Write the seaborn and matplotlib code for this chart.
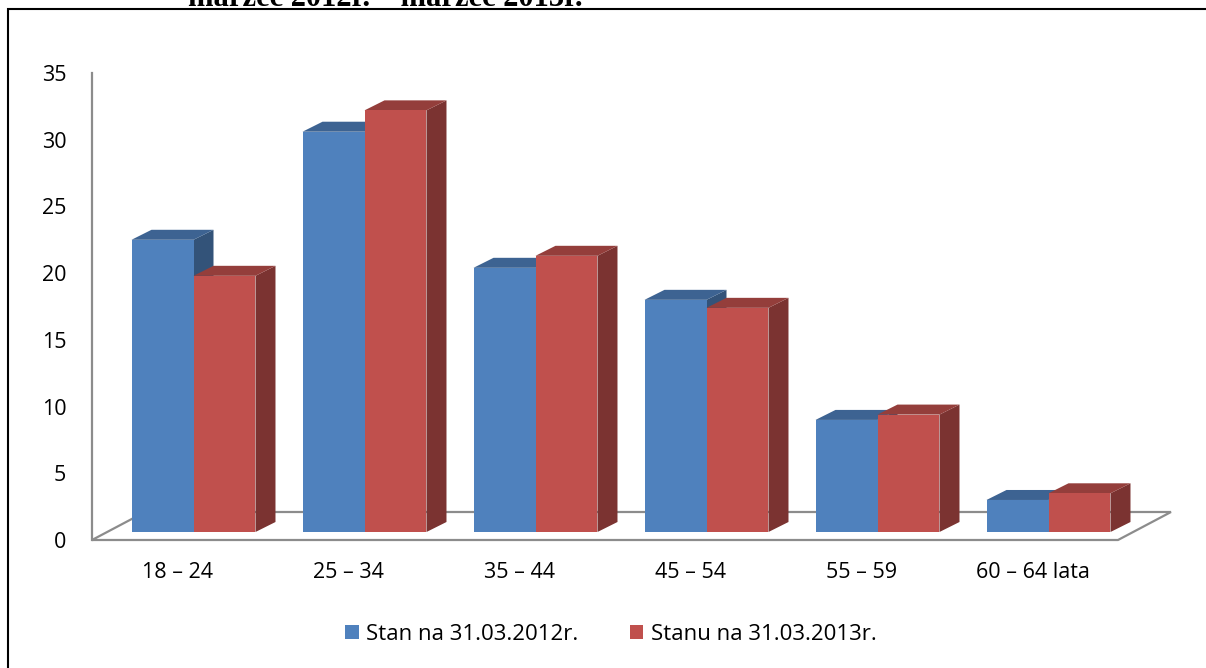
import numpy as np
import pandas as pd
import matplotlib
matplotlib.use("Agg")
import matplotlib.pyplot as plt
import seaborn as sns
from matplotlib.patches import Polygon, Rectangle, Patch

# ---------------- data ----------------
categories = ["18 – 24", "25 – 34", "35 – 44", "45 – 54", "55 – 59", "60 – 64 lata"]
series_names = ["Stan na 31.03.2012r.", "Stanu na 31.03.2013r."]
values_2012 = [21.9, 30.0, 19.8, 17.4, 8.4, 2.4]
values_2013 = [19.2, 31.6, 20.7, 16.8, 8.8, 2.9]
y_ticks = [0, 5, 10, 15, 20, 25, 30, 35]
title_text = "marzec 2012r. – marzec 2013r."

# ---------------- style ----------------
W, H = 1206, 668
BLUE = "#4F81BD"
RED = "#C0504D"
GRAY = "#8C8C8C"

sns.set_theme(style="white")
plt.rcParams["font.family"] = ["Open Sans", "DejaVu Sans"]

fig = plt.figure(figsize=(W / 100, H / 100), dpi=100)
fig.patch.set_facecolor("white")

# front plane of the pseudo-3D plot (pixels)
ax_l, ax_r, ax_b, ax_t = 92, 1118, 540, 73
ax = fig.add_axes([ax_l / W, 1 - ax_b / H, (ax_r - ax_l) / W, (ax_b - ax_t) / H])

df = pd.DataFrame({
    "cat": categories * 2,
    "series": [series_names[0]] * len(categories) + [series_names[1]] * len(categories),
    "value": values_2012 + values_2013,
})

sns.barplot(data=df, x="cat", y="value", hue="series", order=categories,
            hue_order=series_names, palette=[BLUE, RED], width=0.725, gap=0,
            saturation=1, dodge=True, legend=False, errorbar=None,
            linewidth=0, edgecolor="none", ax=ax)

ax.set_xlim(-0.5, len(categories) - 0.5)
ax.set_ylim(y_ticks[0], y_ticks[-1])
ax.set_xlabel("")
ax.set_ylabel("")

px_x = (ax_r - ax_l) / len(categories)          # pixels per x unit
px_y = (ax_b - ax_t) / (y_ticks[-1] - y_ticks[0])  # pixels per y unit

# pseudo-3D geometry (pixel offsets -> data units)
off_x, off_y = 16 / px_x, 8 / px_y       # bar front plane offset from axis plane
dep_x, dep_y = 20 / px_x, 10 / px_y      # bar depth
fl_x, fl_y = 53 / px_x, 28 / px_y        # floor depth


def shade(c, f):
    c = np.array(matplotlib.colors.to_rgb(c))
    return tuple(np.clip(c * f, 0, 1))


bars = sorted(ax.patches, key=lambda p: p.get_x())
for i, p in enumerate(bars):
    z = 3 + i * 0.1
    fc = p.get_facecolor()
    x0 = p.get_x() + off_x
    w = p.get_width()
    h = p.get_height()
    y0 = off_y
    p.set_x(x0)
    p.set_y(y0)
    p.set_zorder(z + 0.05)
    top = Polygon([(x0, y0 + h), (x0 + w, y0 + h), (x0 + w + dep_x, y0 + h + dep_y),
                   (x0 + dep_x, y0 + h + dep_y)], closed=True,
                  facecolor=shade(fc, 0.77), edgecolor="none", zorder=z, clip_on=False)
    side = Polygon([(x0 + w, y0), (x0 + w + dep_x, y0 + dep_y),
                    (x0 + w + dep_x, y0 + h + dep_y), (x0 + w, y0 + h)], closed=True,
                   facecolor=shade(fc, 0.64), edgecolor="none", zorder=z, clip_on=False)
    ax.add_patch(side)
    ax.add_patch(top)

# floor outline
xl, xr = ax.get_xlim()
floor = Polygon([(xl, 0), (xr, 0), (xr + fl_x, fl_y), (xl + fl_x, fl_y)], closed=True,
                fill=False, edgecolor=GRAY, linewidth=1.6, zorder=1, clip_on=False)
ax.add_patch(floor)

for s in ["top", "right", "bottom"]:
    ax.spines[s].set_visible(False)
ax.spines["left"].set_color(GRAY)
ax.spines["left"].set_linewidth(1.6)

ax.set_yticks(y_ticks)
ax.set_yticklabels([str(t) for t in y_ticks])
ax.tick_params(axis="y", length=0, pad=18.5, labelsize=15.5, labelcolor="black")
ax.tick_params(axis="x", length=0, pad=15.5, labelsize=15.5, labelcolor="black")
ax.grid(False)
ax.set_facecolor("none")

# legend
handles = [Patch(facecolor=BLUE, edgecolor="none"), Patch(facecolor=RED, edgecolor="none")]
fig.legend(handles=handles, labels=series_names, loc="center",
           bbox_to_anchor=(611 / W, 1 - 634 / H), ncol=2, frameon=False,
           fontsize=16, handlelength=0.6, handleheight=0.6, handletextpad=0.35,
           columnspacing=2.3, labelcolor="black")

# cut-off title at the very top (partly outside the page, as in the source)
fig.text(188 / W, 1 - 6 / H, title_text, fontfamily=["Liberation Serif", "DejaVu Serif"],
         fontweight="bold", fontsize=22, ha="left", va="baseline", color="black")

# page frame (continues beyond right and bottom edges)
frame = Rectangle((8 / W, -0.2), 2.0, 1.2 - 9 / H, transform=fig.transFigure,
                  fill=False, edgecolor="black", linewidth=1.5, zorder=10)
fig.add_artist(frame)

fig.savefig("out.png", dpi=100, facecolor="white")
